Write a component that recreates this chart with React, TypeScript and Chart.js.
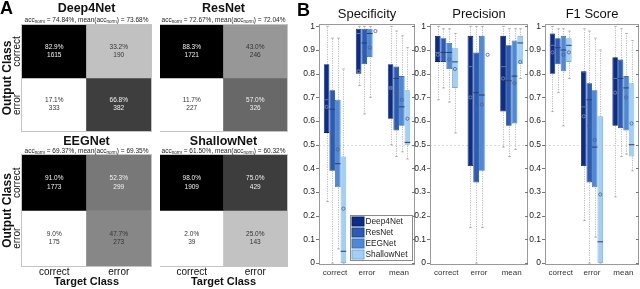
import React, { useEffect, useRef } from 'react';
import { Chart, registerables } from 'chart.js';

Chart.register(...registerables);

const FONT = "'Liberation Sans', Arial, Helvetica, sans-serif";
Chart.defaults.font.family = FONT;

// ---------------- Panel A: confusion matrices ----------------
const cmModels = ['Deep4Net', 'ResNet', 'EEGNet', 'ShallowNet'];
const cmAccNorm = ['74.84', '72.67', '69.37', '61.50'];
const cmAccMean = ['73.68', '72.04', '69.35', '60.32'];
const cmTargetClasses = ['correct', 'error'];
const cmOutputClasses = ['correct', 'error'];
// order: [out correct|target correct, out correct|target error, out error|target correct, out error|target error]
const cmPercent = [
  [82.9, 33.2, 17.1, 66.8],
  [88.3, 43.0, 11.7, 57.0],
  [91.0, 52.3, 9.0, 47.7],
  [98.0, 75.0, 2.0, 25.0],
];
const cmCount = [
  [1615, 190, 333, 382],
  [1721, 246, 227, 326],
  [1773, 299, 175, 273],
  [1909, 429, 39, 143],
];

// ---------------- Panel B: box plots ----------------
const boxClasses = ['correct', 'error', 'mean'];
const boxModels = ['Deep4Net', 'ResNet', 'EEGNet', 'ShallowNet'];
const metricTitles = ['Specificity', 'Precision', 'F1 Score'];
const yTickValues = [0, 0.1, 0.2, 0.3, 0.4, 0.5, 0.6, 0.7, 0.8, 0.9, 1];
const referenceLine = 0.5;

// rows: models, columns: correct / error / mean
const specLow = [[0.26, 0.75, 0.50], [0.00, 0.63, 0.45], [0.06, 0.70, 0.47], [0.00, null, 0.44]];
const specQ1 = [[0.55, 0.80, 0.61], [0.39, 0.84, 0.56], [0.32, 0.87, 0.58], [0.00, null, 0.50]];
const specMed = [[0.69, 0.97, 0.74], [0.65, 0.93, 0.78], [0.42, 0.97, 0.66], [0.05, null, 0.51]];
const specQ3 = [[0.84, 0.99, 0.84], [0.73, 0.99, 0.83], [0.69, 0.99, 0.79], [0.45, null, 0.73]];
const specHigh = [[1.00, 1.00, 1.00], [0.95, 1.00, 0.98], [0.95, 1.00, 0.96], [0.82, null, 0.91]];
const specMean = [[0.66, 0.81, 0.74], [0.55, 0.89, 0.72], [0.48, 0.91, 0.69], [0.23, 0.98, 0.61]];

const precLow = [[0.69, 0.15, 0.49], [0.74, 0.00, 0.45], [0.68, 0.15, 0.48], [0.55, null, 0.78]];
const precQ1 = [[0.85, 0.41, 0.64], [0.85, 0.34, 0.58], [0.82, 0.39, 0.59], [0.74, null, 0.84]];
const precMed = [[0.89, 0.83, 0.83], [0.89, 0.72, 0.77], [0.89, 0.71, 0.79], [0.85, null, 0.93]];
const precQ3 = [[0.96, 0.96, 0.96], [0.95, 0.89, 0.92], [0.93, 0.96, 0.94], [0.91, null, 0.96]];
const precHigh = [[1.00, 1.00, 1.00], [0.99, 1.00, 0.99], [0.99, 1.00, 0.99], [0.97, null, 0.99]];
const precMean = [[0.88, 0.70, 0.78], [0.87, 0.65, 0.76], [0.86, 0.67, 0.76], [0.82, 0.88, 0.85]];

const f1Low = [[0.64, 0.18, 0.28], [0.72, 0.00, 0.45], [0.58, 0.11, 0.46], [0.78, 0.00, 0.39]];
const f1Q1 = [[0.80, 0.41, 0.58], [0.84, 0.34, 0.57], [0.81, 0.32, 0.56], [0.85, 0.00, 0.45]];
const f1Med = [[0.92, 0.66, 0.78], [0.91, 0.69, 0.78], [0.90, 0.49, 0.74], [0.92, 0.09, 0.50]];
const f1Q3 = [[0.97, 0.81, 0.87], [0.95, 0.76, 0.86], [0.96, 0.73, 0.79], [0.95, 0.62, 0.76]];
const f1High = [[1.00, 0.99, 1.00], [0.99, 0.98, 0.99], [0.99, 0.95, 0.97], [0.98, 0.90, 0.94]];
const f1Mean = [[0.89, 0.62, 0.72], [0.87, 0.58, 0.73], [0.88, 0.52, 0.70], [0.89, 0.29, 0.59]];

// styles
const boxColors = ['#0a2d8c', '#2a5cb6', '#4d89d6', '#a2cff5'];
const boxBorders = ['#051d63', '#1b4390', '#3a6fb2', '#78a8d8'];

type Grid = (number | null)[][];
interface Stats { low: Grid; q1: Grid; med: Grid; q3: Grid; high: Grid; mean: Grid; }

const metricStats: Stats[] = [
  { low: specLow, q1: specQ1, med: specMed, q3: specQ3, high: specHigh, mean: specMean },
  { low: precLow, q1: precQ1, med: precMed, q3: precQ3, high: precHigh, mean: precMean },
  { low: f1Low, q1: f1Q1, med: f1Med, q3: f1Q3, high: f1High, mean: f1Mean },
];

function matrixConfig(k: number, o: { showY: boolean; showX: boolean; tTop: number; tBot: number; padBottom: number; subGap: number }) {
  const pct = cmPercent[k];
  const lo = Math.min(...pct);
  const hi = Math.max(...pct);
  const shade = (v: number) => 1 - (v - lo) / (hi - lo);
  const col = (v: number) => {
    const g = Math.round(shade(v) * 255);
    return `rgb(${g},${g},${g})`;
  };
  const plugin = {
    id: 'cmExtras',
    afterDatasetsDraw(chart: any) {
      const { ctx, chartArea: a } = chart;
      ctx.save();
      ctx.strokeStyle = '#c4c4c4';
      ctx.lineWidth = 1;
      ctx.strokeRect(a.left - 0.5, a.top - 0.5, a.right - a.left + 1, a.bottom - a.top + 1);
      ctx.textAlign = 'center';
      ctx.textBaseline = 'middle';
      ctx.font = `6.5px ${FONT}`;
      cmOutputClasses.forEach((_, r) => {
        const meta = chart.getDatasetMeta(r);
        cmTargetClasses.forEach((_, c) => {
          const el = meta.data[c];
          const idx = r * 2 + c;
          const cx = el.x;
          const cy = (el.y + el.base) / 2;
          ctx.fillStyle = shade(pct[idx]) < 0.5 ? '#f2f2f2' : '#333';
          ctx.fillText(pct[idx].toFixed(1) + '%', cx, cy - 4.2);
          ctx.fillText(String(cmCount[k][idx]), cx, cy + 4.2);
        });
      });
      if (o.showY) {
        ctx.fillStyle = '#111';
        ctx.font = `10px ${FONT}`;
        cmOutputClasses.forEach((label, r) => {
          const el = chart.getDatasetMeta(r).data[0];
          const cy = (el.y + el.base) / 2;
          ctx.save();
          ctx.translate(a.left - 4.5, cy);
          ctx.rotate(-Math.PI / 2);
          ctx.fillText(label, 0, 0);
          ctx.restore();
        });
      }
      // subtitle with subscripts
      const parts: [string, number, number][] = [
        ['acc', 6.5, 0],
        ['norm', 4.5, 1.6],
        [` = ${cmAccNorm[k]}%, mean(acc`, 6.5, 0],
        ['norm', 4.5, 1.6],
        [`) = ${cmAccMean[k]}%`, 6.5, 0],
      ];
      let total = 0;
      parts.forEach(([t, s]) => {
        ctx.font = `${s}px ${FONT}`;
        total += ctx.measureText(t).width;
      });
      let x = (a.left + a.right) / 2 - total / 2;
      const base = a.top - o.subGap;
      ctx.textAlign = 'left';
      ctx.textBaseline = 'alphabetic';
      ctx.fillStyle = '#222';
      parts.forEach(([t, s, dy]) => {
        ctx.font = `${s}px ${FONT}`;
        ctx.fillText(t, x, base + dy);
        x += ctx.measureText(t).width;
      });
      ctx.restore();
    },
  };
  return {
    type: 'bar',
    data: {
      labels: cmTargetClasses,
      datasets: cmOutputClasses.map((name, r) => ({
        label: name,
        data: cmTargetClasses.map(() => [1 - r, 2 - r]),
        backgroundColor: cmTargetClasses.map((_, c) => col(pct[r * 2 + c])),
        borderWidth: 0,
        grouped: false,
        barPercentage: 1,
        categoryPercentage: 1,
      })),
    },
    options: {
      animation: false,
      responsive: false,
      maintainAspectRatio: false,
      layout: { padding: { left: 0, right: 1, top: 0, bottom: o.padBottom } },
      plugins: {
        legend: { display: false },
        tooltip: { enabled: false },
        title: {
          display: true,
          text: cmModels[k],
          fullSize: false,
          color: '#111',
          font: { size: 12.5, weight: 'bold', lineHeight: 1.2 },
          padding: { top: o.tTop, bottom: o.tBot },
        },
      },
      scales: {
        x: {
          type: 'category',
          display: o.showX,
          grid: { display: false, drawTicks: false, tickLength: 0 },
          border: { display: false },
          ticks: { font: { size: 10 }, color: '#111', padding: 0 },
          title: { display: true, text: 'Target Class', font: { size: 11, weight: 'bold' }, color: '#111', padding: 0 },
          afterFit: (s: any) => { s.height = o.showX ? 23 : 0; },
        },
        y: {
          type: 'linear',
          min: 0,
          max: 2,
          display: o.showY,
          grid: { display: false, drawTicks: false, tickLength: 0 },
          border: { display: false },
          ticks: { display: false },
          title: { display: true, text: 'Output Class', font: { size: 12, weight: 'bold' }, color: '#111', padding: 0 },
          afterFit: (s: any) => { s.width = o.showY ? 22 : 0; },
        },
      },
    },
    plugins: [plugin],
  };
}

function boxConfig(mi: number, yW: number, padR: number, withLegend: boolean) {
  const st = metricStats[mi];
  const plugin = {
    id: 'boxExtras',
    beforeDatasetsDraw(chart: any) {
      const { ctx, chartArea: a } = chart;
      const y = chart.scales.y;
      ctx.save();
      const yr = Math.round(y.getPixelForValue(referenceLine)) + 0.5;
      ctx.strokeStyle = '#dcdcdc';
      ctx.lineWidth = 1;
      ctx.setLineDash([2, 2]);
      ctx.beginPath();
      ctx.moveTo(a.left, yr);
      ctx.lineTo(a.right, yr);
      ctx.stroke();
      boxModels.forEach((_, m) => {
        const meta = chart.getDatasetMeta(m);
        boxClasses.forEach((_, i) => {
          const lo = st.low[m][i];
          const hi = st.high[m][i];
          const el = meta.data[i];
          if (lo == null || hi == null || !el) return;
          const x = Math.round(el.x) + 0.5;
          const yl = y.getPixelForValue(lo);
          const yh = y.getPixelForValue(hi);
          ctx.strokeStyle = '#a8a8a8';
          ctx.lineWidth = 0.8;
          ctx.setLineDash([1.2, 1.2]);
          ctx.beginPath();
          ctx.moveTo(x, yl);
          ctx.lineTo(x, yh);
          ctx.stroke();
          ctx.setLineDash([]);
          const cw = Math.max(2, (el.width || 5) * 0.45);
          ctx.strokeStyle = '#999';
          ctx.beginPath();
          ctx.moveTo(x - cw / 2, yl);
          ctx.lineTo(x + cw / 2, yl);
          ctx.moveTo(x - cw / 2, yh);
          ctx.lineTo(x + cw / 2, yh);
          ctx.stroke();
        });
      });
      ctx.restore();
    },
    afterDatasetsDraw(chart: any) {
      const { ctx, chartArea: a } = chart;
      const y = chart.scales.y;
      ctx.save();
      boxModels.forEach((_, m) => {
        const meta = chart.getDatasetMeta(m);
        boxClasses.forEach((_, i) => {
          const el = meta.data[i];
          if (!el) return;
          const w = el.width || 5.5;
          const md = st.med[m][i];
          if (md != null) {
            const yy = y.getPixelForValue(md);
            ctx.strokeStyle = m === 0 ? '#5f74a8' : '#2c3d66';
            ctx.lineWidth = 1;
            ctx.beginPath();
            ctx.moveTo(el.x - w / 2, yy);
            ctx.lineTo(el.x + w / 2, yy);
            ctx.stroke();
          }
          const mn = st.mean[m][i];
          if (mn != null) {
            const yy = y.getPixelForValue(mn);
            ctx.strokeStyle = m === 0 ? '#7d92c6' : '#46609a';
            ctx.lineWidth = 0.8;
            ctx.beginPath();
            ctx.arc(el.x, yy, 1.6, 0, Math.PI * 2);
            ctx.stroke();
          }
        });
      });
      // axes box
      ctx.strokeStyle = '#9a9a9a';
      ctx.lineWidth = 1;
      ctx.strokeRect(Math.round(a.left) + 0.5, Math.round(a.top) + 0.5, Math.round(a.right - a.left) - 1, Math.round(a.bottom - a.top) - 1);
      ctx.strokeStyle = '#777';
      ctx.beginPath();
      yTickValues.forEach((v) => {
        const yy = Math.round(y.getPixelForValue(v)) + 0.5;
        ctx.moveTo(a.left - 3, yy);
        ctx.lineTo(a.left, yy);
        ctx.moveTo(a.right - 3, yy);
        ctx.lineTo(a.right, yy);
      });
      ctx.stroke();
      if (withLegend) {
        const lw = 62;
        const lh = 45;
        const lx = Math.round(a.right - 3 - lw) + 0.5;
        const ly = Math.round(a.bottom - 5 - lh) + 0.5;
        ctx.fillStyle = '#fff';
        ctx.fillRect(lx, ly, lw, lh);
        ctx.strokeStyle = '#8a8a8a';
        ctx.strokeRect(lx, ly, lw, lh);
        ctx.font = `8.3px ${FONT}`;
        ctx.textAlign = 'left';
        ctx.textBaseline = 'middle';
        boxModels.forEach((name, m) => {
          const cy = ly + 6 + m * 11;
          ctx.fillStyle = boxColors[m];
          ctx.fillRect(lx + 1.5, cy - 4.5, 12, 9);
          ctx.strokeStyle = boxBorders[m];
          ctx.strokeRect(lx + 1.5, cy - 4.5, 12, 9);
          ctx.fillStyle = '#222';
          ctx.fillText(name, lx + 15, cy + 0.5);
        });
      }
      ctx.restore();
    },
  };
  return {
    type: 'bar',
    data: {
      labels: boxClasses,
      datasets: boxModels.map((name, m) => ({
        label: name,
        data: boxClasses.map((_, i) => {
          const a = st.q1[m][i];
          const b = st.q3[m][i];
          return a == null || b == null ? null : [a, b];
        }),
        backgroundColor: boxColors[m],
        borderColor: boxBorders[m],
        borderWidth: 0.8,
        borderSkipped: false,
        barPercentage: 1,
        categoryPercentage: 0.7,
      })),
    },
    options: {
      animation: false,
      responsive: false,
      maintainAspectRatio: false,
      layout: { padding: { left: 0, right: padR, top: 0, bottom: 0 } },
      plugins: {
        legend: { display: false },
        tooltip: { enabled: false },
        title: {
          display: true,
          text: metricTitles[mi],
          fullSize: false,
          color: '#111',
          font: { size: 13, weight: 'normal', lineHeight: 1.2 },
          padding: { top: 7, bottom: 1.4 },
        },
      },
      scales: {
        x: {
          type: 'category',
          grid: { display: false, drawTicks: false, tickLength: 0 },
          border: { display: false },
          ticks: { font: { size: 8 }, color: '#333', padding: 2.5 },
          afterFit: (s: any) => { s.height = 24; },
        },
        y: {
          type: 'linear',
          min: -0.008,
          max: 1.01,
          grid: { display: false, drawTicks: false, tickLength: 0 },
          border: { display: false },
          afterBuildTicks: (s: any) => { s.ticks = yTickValues.map((v) => ({ value: v })); },
          ticks: { font: { size: 8.5 }, color: '#222', padding: 4, callback: (v: any) => String(v) },
          afterFit: (s: any) => { s.width = yW; },
        },
      },
    },
    plugins: [plugin],
  };
}

function ChartCanvas({ left, top, width, height, make }: { left: number; top: number; width: number; height: number; make: () => any }) {
  const ref = useRef<HTMLCanvasElement>(null);
  useEffect(() => {
    const chart = new Chart(ref.current as HTMLCanvasElement, make());
    return () => chart.destroy();
  }, []);
  return (
    <canvas
      ref={ref}
      width={width}
      height={height}
      style={{ position: 'absolute', left, top, width, height }}
    />
  );
}

const letterStyle = (left: number, top: number): React.CSSProperties => ({
  position: 'absolute',
  left,
  top,
  fontFamily: FONT,
  fontWeight: 'bold',
  fontSize: 18,
  lineHeight: '18px',
  color: '#000',
});

export default function App() {
  return (
    <div style={{ position: 'fixed', left: 0, top: 0, width: 640, height: 289, background: '#fff', overflow: 'hidden' }}>
      <ChartCanvas left={0} top={0} width={152} height={140}
        make={() => matrixConfig(0, { showY: true, showX: false, tTop: 1, tBot: 9, padBottom: 9, subGap: 3.3 })} />
      <ChartCanvas left={160} top={0} width={128} height={140}
        make={() => matrixConfig(1, { showY: false, showX: false, tTop: 1, tBot: 9, padBottom: 9, subGap: 3.3 })} />
      <ChartCanvas left={0} top={131} width={152} height={158}
        make={() => matrixConfig(2, { showY: true, showX: true, tTop: 3, tBot: 6, padBottom: 0, subGap: 2.3 })} />
      <ChartCanvas left={160} top={131} width={128} height={158}
        make={() => matrixConfig(3, { showY: false, showX: true, tTop: 3, tBot: 6, padBottom: 0, subGap: 2.3 })} />
      <ChartCanvas left={295} top={0} width={122} height={289} make={() => boxConfig(0, 24, 2, true)} />
      <ChartCanvas left={404} top={0} width={126} height={289} make={() => boxConfig(1, 26, 2, false)} />
      <ChartCanvas left={519} top={0} width={121} height={289} make={() => boxConfig(2, 26, 1, false)} />
      <div style={letterStyle(0, -0.6)}>A</div>
      <div style={letterStyle(297, 0.7)}>B</div>
    </div>
  );
}
